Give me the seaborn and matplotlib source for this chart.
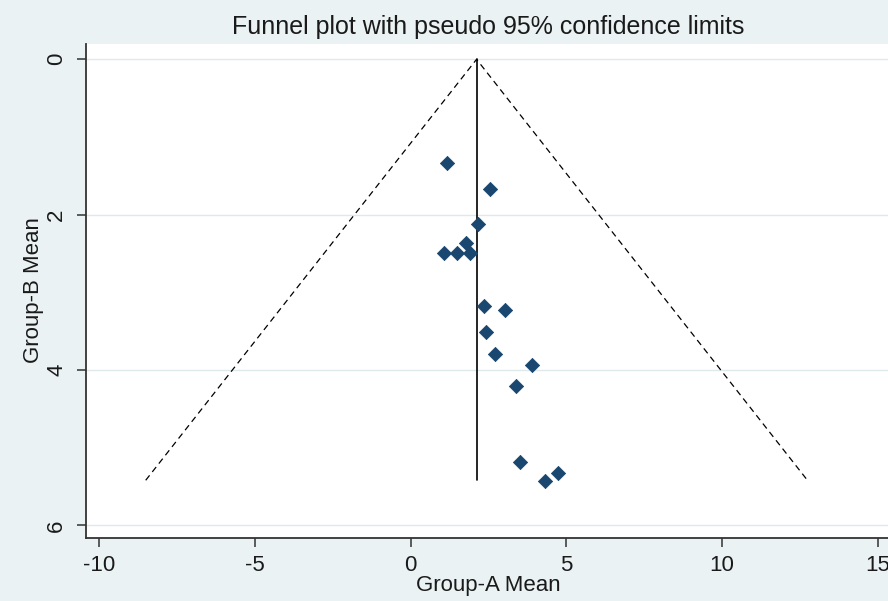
import matplotlib
matplotlib.use("Agg")
import matplotlib.pyplot as plt
import seaborn as sns
import numpy as np
import pandas as pd

# ---- data ----
group_a_mean = [1.17, 2.54, 2.15, 1.78, 1.09, 1.49, 1.90, 2.35, 3.04, 2.43,
                2.72, 3.91, 3.40, 3.53, 4.72, 4.33]
group_b_mean = [1.33, 1.67, 2.12, 2.36, 2.49, 2.49, 2.50, 3.18, 3.23, 3.51,
                3.79, 3.94, 4.20, 5.19, 5.33, 5.43]
pooled_estimate = 2.12
max_se = 5.42
z95 = 1.96
x_ticks = [-10, -5, 0, 5, 10, 15]
y_ticks = [0, 2, 4, 6]
title = "Funnel plot with pseudo 95% confidence limits"
x_label = "Group-A Mean"
y_label = "Group-B Mean"

df = pd.DataFrame({"a": group_a_mean, "b": group_b_mean})

sns.set_theme(style="white")
plt.rcParams["font.family"] = ["Liberation Sans", "DejaVu Sans"]

BG = "#EAF2F3"
NAVY = "#1A476F"
TXT = "#1a1a1a"

W, H = 888, 601
fig = plt.figure(figsize=(W / 100, H / 100), dpi=100, facecolor=BG)
left_px, right_px, top_px, bottom_px = 85.7, 888, 44, 538.3
ax = fig.add_axes([left_px / W, 1 - bottom_px / H,
                   (right_px - left_px) / W, (bottom_px - top_px) / H])
ax.set_facecolor("white")

# horizontal gridlines
for yt in y_ticks:
    ax.axhline(yt, color="#DFE9EB", lw=1.0, zorder=0)

# funnel limits
ax.plot([pooled_estimate - z95 * max_se, pooled_estimate, pooled_estimate + z95 * max_se],
        [max_se, 0, max_se], color="black", lw=0.9, ls=(0, (5, 3.5)), zorder=2)
# pooled estimate line
ax.plot([pooled_estimate, pooled_estimate], [0, max_se], color="black", lw=1.2, zorder=2)

sns.scatterplot(data=df, x="a", y="b", marker="D", s=52, color=NAVY,
                edgecolor=NAVY, linewidth=0.6, ax=ax, zorder=3)

ax.set_xlim(-10.43, 15.33)
ax.set_ylim(6.167, -0.197)
ax.set_xticks(x_ticks)
ax.set_yticks(y_ticks)
ax.set_xticklabels([str(t) for t in x_ticks])
ax.set_yticklabels([str(t) for t in y_ticks])

for s in ["top", "right"]:
    ax.spines[s].set_visible(False)
for s in ["left", "bottom"]:
    ax.spines[s].set_color("#333333")
    ax.spines[s].set_linewidth(1.3)

ax.tick_params(axis="both", which="major", direction="out", length=6.3, width=1.1,
               color="#333333", labelsize=16, labelcolor=TXT, left=True, bottom=True)
ax.tick_params(axis="y", labelrotation=90, pad=7)
ax.tick_params(axis="x", pad=6)
for lab in ax.get_yticklabels():
    lab.set_va("center")

ax.set_xlabel(x_label, fontsize=16, color=TXT)
ax.set_ylabel(y_label, fontsize=16, color=TXT)
ax.xaxis.set_label_coords((488 - left_px) / (right_px - left_px),
                          (bottom_px - 586) / (bottom_px - top_px))
ax.xaxis.label.set_va("center")
ax.yaxis.set_label_coords((34 - left_px) / (right_px - left_px),
                          (bottom_px - 290) / (bottom_px - top_px))
ax.yaxis.label.set_va("center")

fig.text(488 / W, 1 - 27 / H, title, ha="center", va="center", fontsize=18, color=TXT)

fig.savefig("out.png", dpi=100, facecolor=BG)
